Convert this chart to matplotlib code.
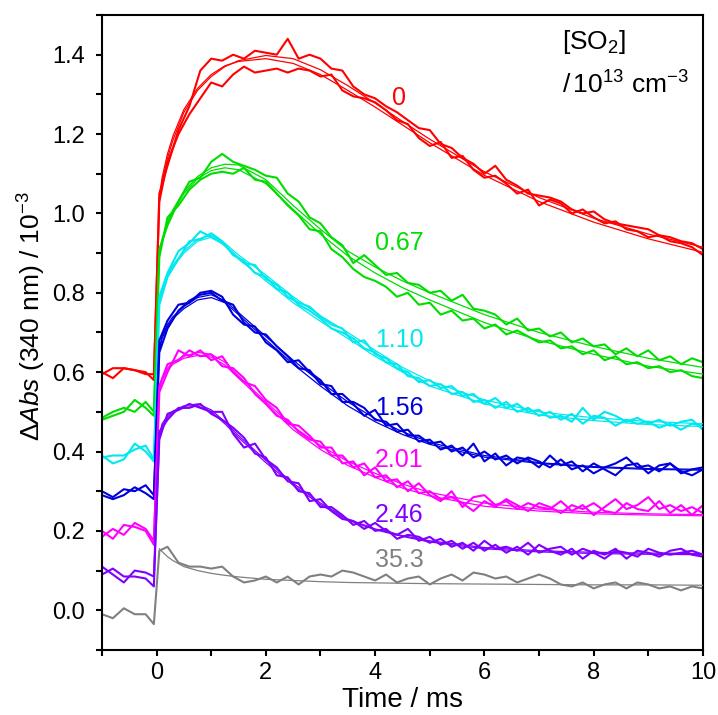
import numpy as np
import matplotlib
matplotlib.use("Agg")
import matplotlib.pyplot as plt
from matplotlib.ticker import MultipleLocator, FormatStrFormatter

plt.rcParams['font.family'] = ['Liberation Sans', 'DejaVu Sans']
plt.rcParams['mathtext.fontset'] = 'custom'
plt.rcParams['mathtext.rm'] = 'Liberation Sans'
plt.rcParams['mathtext.it'] = 'Liberation Sans:italic'

# ---------------------------------------------------------------------------
# data
# ---------------------------------------------------------------------------
t_data = [-1.0, -0.8, -0.6, -0.4, -0.2, -0.05,
          0.05, 0.2, 0.4, 0.6, 0.8, 1.0, 1.2, 1.4, 1.6, 1.8, 2.0,
          2.2, 2.4, 2.6, 2.8, 3.0, 3.2, 3.4, 3.6, 3.8, 4.0,
          4.2, 4.4, 4.6, 4.8, 5.0, 5.2, 5.4, 5.6, 5.8, 6.0,
          6.2, 6.4, 6.6, 6.8, 7.0, 7.2, 7.4, 7.6, 7.8, 8.0,
          8.2, 8.4, 8.6, 8.8, 9.0, 9.2, 9.4, 9.6, 9.8, 10.0]

t_fit = [0.05, 0.1, 0.2, 0.3, 0.5, 0.75, 1.0, 1.25, 1.5, 2.0, 2.5,
         3.0, 3.5, 4.0, 4.5, 5.0, 6.0, 7.0, 8.0, 9.0, 10.0]

# [SO2] = 0
red_a = [0.60, 0.585, 0.61, 0.605, 0.60, 0.58,
         1.05, 1.12, 1.21, 1.27, 1.36, 1.39, 1.385, 1.40, 1.39, 1.41, 1.405,
         1.40, 1.44, 1.39, 1.40, 1.39, 1.365, 1.36, 1.32, 1.30, 1.29,
         1.27, 1.255, 1.235, 1.215, 1.21, 1.175, 1.165, 1.14, 1.125, 1.10,
         1.12, 1.085, 1.07, 1.05, 1.045, 1.04, 1.03, 1.01, 1.0, 1.005,
         0.985, 0.975, 0.97, 0.965, 0.96, 0.945, 0.94, 0.93, 0.925, 0.91]
red_b = [0.595, 0.61, 0.61, 0.605, 0.595, 0.595,
         1.03, 1.13, 1.20, 1.25, 1.29, 1.33, 1.32, 1.35, 1.37, 1.355, 1.36,
         1.365, 1.355, 1.365, 1.36, 1.345, 1.35, 1.31, 1.295, 1.29, 1.28,
         1.26, 1.235, 1.225, 1.19, 1.17, 1.18, 1.14, 1.145, 1.11, 1.09,
         1.095, 1.075, 1.05, 1.06, 1.02, 1.035, 1.025, 1.0, 1.01, 0.99,
         0.975, 0.98, 0.96, 0.955, 0.94, 0.945, 0.93, 0.925, 0.915, 0.895]
red_fit_a = [1.03, 1.08, 1.14, 1.185, 1.255, 1.31, 1.345, 1.37, 1.385, 1.398, 1.39,
             1.362, 1.322, 1.278, 1.232, 1.187, 1.105, 1.04, 0.988, 0.948, 0.915]
red_fit_b = [1.04, 1.09, 1.15, 1.195, 1.262, 1.315, 1.35, 1.372, 1.383, 1.39, 1.378,
             1.35, 1.31, 1.268, 1.223, 1.178, 1.096, 1.03, 0.978, 0.936, 0.902]

# [SO2] = 0.67
green_a = [0.48, 0.49, 0.50, 0.53, 0.51, 0.49,
           0.91, 0.97, 1.03, 1.08, 1.09, 1.13, 1.15, 1.13, 1.12, 1.11, 1.095,
           1.09, 1.05, 1.03, 0.99, 0.975, 0.94, 0.92, 0.875, 0.895, 0.87,
           0.845, 0.85, 0.825, 0.82, 0.80, 0.805, 0.78, 0.795, 0.76, 0.755,
           0.745, 0.72, 0.735, 0.705, 0.71, 0.69, 0.70, 0.675, 0.685, 0.665,
           0.67, 0.645, 0.66, 0.64, 0.655, 0.63, 0.64, 0.62, 0.635, 0.625]
green_b = [0.485, 0.50, 0.51, 0.50, 0.525, 0.50,
           0.89, 0.99, 1.02, 1.06, 1.085, 1.10, 1.105, 1.10, 1.115, 1.085, 1.08,
           1.05, 1.02, 0.995, 0.96, 0.955, 0.91, 0.89, 0.86, 0.84, 0.83,
           0.815, 0.79, 0.80, 0.77, 0.775, 0.745, 0.755, 0.73, 0.735, 0.71,
           0.72, 0.695, 0.705, 0.69, 0.675, 0.68, 0.66, 0.665, 0.645, 0.655,
           0.63, 0.64, 0.62, 0.625, 0.61, 0.615, 0.60, 0.605, 0.59, 0.585]
green_fit_a = [0.90, 0.935, 0.98, 1.01, 1.055, 1.093, 1.115, 1.124, 1.122, 1.085, 1.02,
               0.96, 0.905, 0.865, 0.83, 0.80, 0.745, 0.70, 0.665, 0.635, 0.612]
green_fit_b = [0.895, 0.93, 0.975, 1.005, 1.05, 1.088, 1.108, 1.115, 1.11, 1.075, 1.01,
               0.948, 0.893, 0.85, 0.813, 0.782, 0.725, 0.68, 0.645, 0.615, 0.595]

# [SO2] = 1.10
cyan_a = [0.39, 0.37, 0.38, 0.42, 0.40, 0.375,
          0.79, 0.85, 0.905, 0.925, 0.955, 0.94, 0.925, 0.90, 0.875, 0.87, 0.835,
          0.82, 0.79, 0.775, 0.765, 0.74, 0.72, 0.71, 0.675, 0.68, 0.645,
          0.635, 0.61, 0.60, 0.575, 0.58, 0.56, 0.565, 0.54, 0.545, 0.52,
          0.535, 0.51, 0.52, 0.50, 0.505, 0.485, 0.49, 0.475, 0.51, 0.48,
          0.50, 0.49, 0.475, 0.485, 0.47, 0.48, 0.465, 0.475, 0.48, 0.455]
cyan_b = [0.385, 0.39, 0.39, 0.405, 0.415, 0.38,
          0.77, 0.84, 0.885, 0.93, 0.935, 0.95, 0.93, 0.895, 0.88, 0.85, 0.84,
          0.81, 0.80, 0.77, 0.755, 0.735, 0.71, 0.70, 0.685, 0.66, 0.65,
          0.625, 0.62, 0.59, 0.585, 0.565, 0.57, 0.545, 0.55, 0.525, 0.53,
          0.51, 0.525, 0.50, 0.51, 0.49, 0.50, 0.48, 0.495, 0.47, 0.49,
          0.485, 0.465, 0.48, 0.47, 0.475, 0.46, 0.47, 0.455, 0.47, 0.465]
cyan_fit_a = [0.78, 0.81, 0.845, 0.87, 0.905, 0.935, 0.945, 0.925, 0.895, 0.845, 0.79,
              0.742, 0.70, 0.655, 0.612, 0.578, 0.53, 0.50, 0.485, 0.476, 0.47]
cyan_fit_b = [0.775, 0.805, 0.84, 0.865, 0.90, 0.93, 0.94, 0.92, 0.885, 0.83, 0.775,
              0.728, 0.685, 0.64, 0.60, 0.565, 0.52, 0.492, 0.478, 0.468, 0.463]

# [SO2] = 1.56
blue_a = [0.29, 0.28, 0.29, 0.31, 0.295, 0.28,
          0.68, 0.73, 0.77, 0.775, 0.80, 0.805, 0.79, 0.745, 0.72, 0.715, 0.675,
          0.655, 0.625, 0.63, 0.60, 0.58, 0.545, 0.545, 0.52, 0.49, 0.505,
          0.465, 0.47, 0.44, 0.44, 0.42, 0.425, 0.40, 0.41, 0.385, 0.40,
          0.38, 0.39, 0.37, 0.385, 0.375, 0.36, 0.38, 0.355, 0.365, 0.345,
          0.36, 0.37, 0.385, 0.36, 0.365, 0.35, 0.37, 0.345, 0.355, 0.36]
blue_b = [0.30, 0.285, 0.305, 0.30, 0.315, 0.29,
          0.65, 0.71, 0.755, 0.78, 0.795, 0.80, 0.78, 0.77, 0.725, 0.70, 0.695,
          0.665, 0.64, 0.61, 0.605, 0.57, 0.565, 0.525, 0.525, 0.51, 0.48,
          0.475, 0.45, 0.455, 0.425, 0.43, 0.405, 0.415, 0.39, 0.42, 0.375,
          0.395, 0.365, 0.385, 0.38, 0.36, 0.39, 0.365, 0.375, 0.35, 0.37,
          0.355, 0.34, 0.365, 0.37, 0.345, 0.365, 0.37, 0.35, 0.34, 0.355]
blue_fit_a = [0.66, 0.69, 0.72, 0.74, 0.765, 0.788, 0.795, 0.78, 0.75, 0.69, 0.63,
              0.575, 0.525, 0.483, 0.45, 0.423, 0.39, 0.372, 0.362, 0.357, 0.355]
blue_fit_b = [0.655, 0.685, 0.715, 0.735, 0.76, 0.782, 0.788, 0.775, 0.745, 0.682, 0.62,
              0.565, 0.515, 0.475, 0.443, 0.418, 0.386, 0.37, 0.36, 0.355, 0.353]

# [SO2] = 2.01
magenta_a = [0.20, 0.18, 0.215, 0.21, 0.20, 0.165,
             0.55, 0.60, 0.655, 0.64, 0.655, 0.63, 0.64, 0.60, 0.575, 0.565, 0.53,
             0.51, 0.47, 0.465, 0.44, 0.41, 0.41, 0.37, 0.375, 0.34, 0.36,
             0.325, 0.33, 0.30, 0.32, 0.29, 0.275, 0.30, 0.26, 0.285, 0.29,
             0.265, 0.275, 0.255, 0.27, 0.26, 0.255, 0.275, 0.25, 0.265, 0.24,
             0.26, 0.28, 0.255, 0.265, 0.285, 0.255, 0.265, 0.25, 0.26, 0.245]
magenta_b = [0.185, 0.205, 0.19, 0.22, 0.205, 0.175,
             0.565, 0.62, 0.63, 0.655, 0.64, 0.645, 0.615, 0.61, 0.585, 0.545, 0.52,
             0.49, 0.48, 0.45, 0.43, 0.425, 0.39, 0.39, 0.36, 0.37, 0.335,
             0.34, 0.31, 0.325, 0.295, 0.30, 0.28, 0.285, 0.27, 0.25, 0.275,
             0.26, 0.28, 0.265, 0.25, 0.27, 0.26, 0.245, 0.265, 0.255, 0.27,
             0.25, 0.245, 0.27, 0.255, 0.25, 0.275, 0.245, 0.265, 0.24, 0.265]
magenta_fit_a = [0.56, 0.585, 0.61, 0.625, 0.64, 0.65, 0.645, 0.625, 0.59, 0.525, 0.463,
                 0.415, 0.375, 0.345, 0.318, 0.297, 0.27, 0.255, 0.247, 0.243, 0.241]
magenta_fit_b = [0.555, 0.58, 0.605, 0.62, 0.635, 0.642, 0.638, 0.618, 0.585, 0.52, 0.455,
                 0.405, 0.365, 0.335, 0.308, 0.288, 0.262, 0.25, 0.243, 0.24, 0.238]

# [SO2] = 2.46
purple_a = [0.11, 0.09, 0.07, 0.10, 0.095, 0.085,
            0.43, 0.495, 0.505, 0.52, 0.51, 0.50, 0.50, 0.445, 0.41, 0.42, 0.38,
            0.36, 0.325, 0.32, 0.275, 0.28, 0.25, 0.23, 0.225, 0.205, 0.22,
            0.20, 0.19, 0.205, 0.175, 0.185, 0.165, 0.175, 0.155, 0.17, 0.15,
            0.165, 0.145, 0.16, 0.14, 0.165, 0.15, 0.14, 0.155, 0.13, 0.15,
            0.14, 0.155, 0.13, 0.15, 0.145, 0.135, 0.15, 0.155, 0.14, 0.135]
purple_b = [0.09, 0.105, 0.085, 0.085, 0.08, 0.06,
            0.45, 0.48, 0.51, 0.51, 0.52, 0.495, 0.48, 0.46, 0.435, 0.395, 0.385,
            0.34, 0.335, 0.30, 0.295, 0.26, 0.26, 0.24, 0.215, 0.225, 0.20,
            0.205, 0.18, 0.19, 0.185, 0.17, 0.18, 0.16, 0.17, 0.15, 0.175,
            0.155, 0.16, 0.15, 0.17, 0.145, 0.155, 0.16, 0.14, 0.155, 0.145,
            0.13, 0.15, 0.145, 0.135, 0.155, 0.145, 0.14, 0.145, 0.15, 0.14]
purple_fit_a = [0.44, 0.47, 0.49, 0.502, 0.515, 0.52, 0.505, 0.475, 0.44, 0.378, 0.32,
                0.27, 0.23, 0.205, 0.188, 0.175, 0.158, 0.15, 0.146, 0.144, 0.143]
purple_fit_b = [0.435, 0.465, 0.485, 0.498, 0.51, 0.515, 0.50, 0.47, 0.435, 0.372, 0.315,
                0.266, 0.227, 0.203, 0.186, 0.172, 0.155, 0.147, 0.143, 0.141, 0.14]

# [SO2] = 35.3
gray_a = [-0.01, -0.02, 0.005, -0.01, -0.01, -0.035,
          0.15, 0.16, 0.12, 0.11, 0.11, 0.105, 0.11, 0.085, 0.07, 0.075, 0.085,
          0.07, 0.085, 0.065, 0.085, 0.09, 0.085, 0.10, 0.095, 0.085, 0.075,
          0.09, 0.07, 0.08, 0.085, 0.065, 0.08, 0.09, 0.075, 0.095, 0.09,
          0.08, 0.085, 0.07, 0.08, 0.09, 0.08, 0.065, 0.06, 0.07, 0.055,
          0.065, 0.07, 0.055, 0.07, 0.065, 0.055, 0.06, 0.05, 0.06, 0.055]
gray_fit = [0.155, 0.148, 0.135, 0.125, 0.11, 0.10, 0.093, 0.088, 0.084, 0.078, 0.075,
            0.072, 0.07, 0.069, 0.068, 0.067, 0.066, 0.065, 0.064, 0.064, 0.063]

conc_labels = ['0', '0.67', '1.10', '1.56', '2.01', '2.46', '35.3']
label_x = [4.3, 4.0, 4.0, 4.0, 4.0, 4.0, 4.0]
label_y = [1.29, 0.925, 0.68, 0.51, 0.378, 0.24, 0.127]

series = [
    ('#ff0000', [red_a, red_b], [red_fit_a, red_fit_b]),
    ('#00dd00', [green_a, green_b], [green_fit_a, green_fit_b]),
    ('#00e8f0', [cyan_a, cyan_b], [cyan_fit_a, cyan_fit_b]),
    ('#0000dd', [blue_a, blue_b], [blue_fit_a, blue_fit_b]),
    ('#ff00ff', [magenta_a, magenta_b], [magenta_fit_a, magenta_fit_b]),
    ('#8000ff', [purple_a, purple_b], [purple_fit_a, purple_fit_b]),
    ('#808080', [gray_a], [gray_fit]),
]

# ---------------------------------------------------------------------------
# plot
# ---------------------------------------------------------------------------
fig = plt.figure(figsize=(7.18, 7.15), dpi=100)
ax = fig.add_axes([0.142, 0.091, 0.837, 0.888])

for (color, traces, fits), lab, lx, ly in zip(series, conc_labels, label_x, label_y):
    for tr in traces:
        ax.plot(t_data, tr, color=color, lw=1.5, zorder=2)
    for ft in fits:
        ax.plot(t_fit, ft, color=color, lw=0.9, zorder=3)
    ax.text(lx, ly, lab, color=color, fontsize=18, ha='left', va='center')

ax.text(0.765, 0.957, r'[SO$_2$]', transform=ax.transAxes, fontsize=19,
        ha='left', va='center')
ax.text(0.765, 0.89, r'/$\,$10$^{13}$ cm$^{-3}$', transform=ax.transAxes,
        fontsize=19, ha='left', va='center')

ax.set_xlim(-1, 10)
ax.set_ylim(-0.1, 1.5)
ax.xaxis.set_major_locator(MultipleLocator(2))
ax.xaxis.set_minor_locator(MultipleLocator(1))
ax.yaxis.set_major_locator(MultipleLocator(0.2))
ax.yaxis.set_minor_locator(MultipleLocator(0.1))
ax.yaxis.set_major_formatter(FormatStrFormatter('%.1f'))
ax.tick_params(which='both', direction='out', length=4, width=1.5,
               labelsize=17, top=False, right=False)
ax.tick_params(axis='y', pad=8)
ax.tick_params(axis='x', pad=5)
for sp in ax.spines.values():
    sp.set_linewidth(1.5)

ax.set_xlabel('Time / ms', fontsize=20)
ax.set_ylabel(r'$\Delta\mathit{Abs}$ (340 nm) / 10$^{-3}$', fontsize=19)
ax.xaxis.set_label_coords(0.5, -0.058)
ax.yaxis.set_label_coords(-0.09, 0.526)

fig.savefig('out.png', dpi=100)
